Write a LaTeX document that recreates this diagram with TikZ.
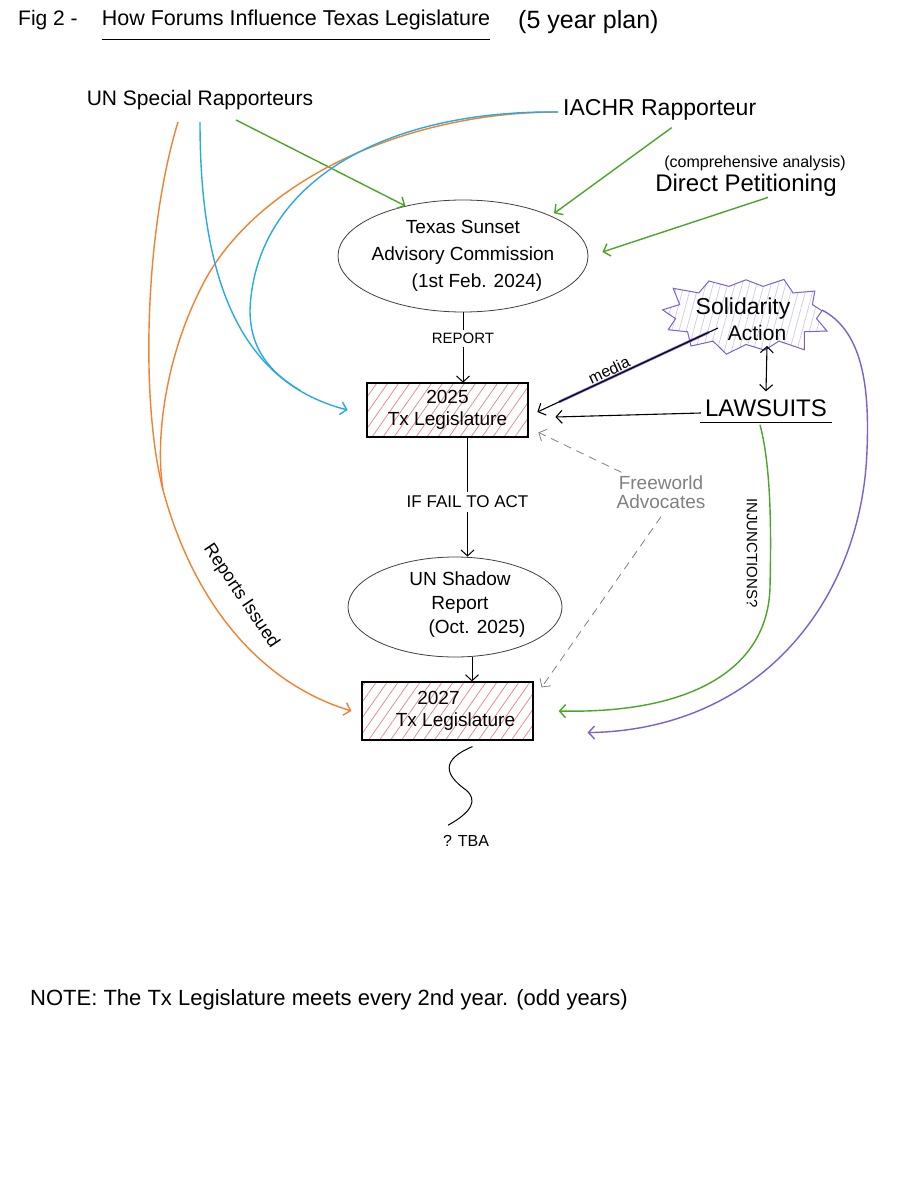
\documentclass[tikz,border=0pt]{standalone}
\usepackage{fontspec}
\setmainfont{Liberation Sans}
\usetikzlibrary{arrows.meta,shapes.geometric,shapes.symbols,patterns.meta,calc}
\definecolor{orng}{RGB}{240,130,50}
\definecolor{blu}{RGB}{40,170,230}
\definecolor{grn}{RGB}{75,165,40}
\definecolor{purp}{RGB}{125,95,205}
\definecolor{hatchred}{RGB}{235,130,130}
\newcommand\fsz[1]{\fontsize{#1}{#1}\selectfont}
\tikzset{
  lbl/.style={inner sep=0pt},
  harrow/.style={-{Straight Barb[length=6pt,width=13pt]}},
  hbox/.style={draw, line width=1.2pt, align=center, inner sep=0pt,
    pattern={Lines[angle=55,distance=9pt,line width=0.7pt]}, pattern color=hatchred},
  oval/.style={ellipse, draw=black!75, line width=0.8pt, inner sep=0pt},
  colline/.style={line width=1.4pt},
  fwline/.style={harrow, gray, line width=0.8pt, dash pattern=on 8pt off 6pt},
}
\begin{document}
\begin{tikzpicture}[x=1pt,y=-1pt]
\useasboundingbox[fill=white] (0,0) rectangle (910,1188);

% title
\node[lbl, anchor=west, font=\fsz{21}] (fig) at (18,20) {Fig 2 -};
\node[lbl, font=\fsz{21.5}] (title) at (296,20) {How Forums Influence Texas Legislature};
\draw[line width=1pt] ([yshift=-9pt]title.south west) -- ([yshift=-9pt]title.south east);
\node[lbl, anchor=west, font=\fsz{25}] (plan) at (518,22) {(5 year plan)};

% sources
\node[lbl, font=\fsz{21}] (un) at (200,100) {UN Special Rapporteurs};
\node[lbl, anchor=west, font=\fsz{23}] (iachr) at (563,110) {IACHR Rapporteur};
\node[lbl, font=\fsz{16}] (compa) at (755,163) {(comprehensive analysis)};
\node[lbl, font=\fsz{24}] (direct) at (746,185) {Direct Petitioning};

% Sunset commission
\node[oval, minimum width=250pt, minimum height=112pt] (sunset) at (463,256) {};
\node[lbl, align=center, font=\fontsize{19}{27}\selectfont] (sunsettxt) at (463,256)
  {Texas Sunset\\Advisory Commission\\\hspace*{28pt}(1st Feb. 2024)};

% legislature boxes
\node[hbox, minimum width=161pt, minimum height=54pt, font=\fontsize{19}{22}\selectfont] (box25) at (447.5,410) {2025\\Tx Legislature};
\node[oval, minimum width=214pt, minimum height=100pt] (shadow) at (455,607) {};
\node[lbl, align=center, font=\fontsize{19}{24}\selectfont] (shadowtxt) at (460,605)
  {UN Shadow\\Report\\\hspace*{34pt}(Oct. 2025)};
\node[hbox, minimum width=171pt, minimum height=58pt, font=\fontsize{19}{22}\selectfont] (box27) at (447.5,711) {2027\hspace*{18pt}\\\hspace*{16pt}Tx Legislature};

% vertical flow
\draw[harrow, line width=1pt] (sunset.south) -- (sunset.south |- box25.north)
  node[pos=0.37, lbl, fill=white, inner sep=3pt, font=\fsz{15}] (report) {REPORT};
\draw[harrow, line width=1pt] ([xshift=20pt]box25.south) -- ([xshift=20pt]box25.south |- shadow.north)
  node[pos=0.54, lbl, fill=white, inner sep=4pt, font=\fsz{17}] (fail) {IF FAIL TO ACT};
\draw[harrow, line width=1pt] ([xshift=17pt]shadow.south) -- ([xshift=17pt]shadow.south |- box27.north);

% TBA
\node[lbl, font=\fsz{16}] (tba) at (466,841) {? TBA};
\draw[line width=1pt] ([xshift=25pt,yshift=-6pt]box27.south) .. controls (440,760) and (445,775) .. (466,790)
  .. controls (478,800) and (472,812) .. ([xshift=-18pt,yshift=10pt]tba.north);

% note
\node[lbl, anchor=west, font=\fsz{22}] (note) at (30,1000) {NOTE: The Tx Legislature meets every 2nd year. (odd years)};

% Solidarity action
\node[starburst, draw=purp, line width=1pt, minimum width=178pt, minimum height=95pt,
  starburst points=13, starburst point height=18pt, random starburst=3,
  pattern={Lines[angle=75,distance=7pt,line width=0.7pt]}, pattern color=purp!35] (solid) at (746,315) {};
\node[lbl, font=\fsz{23}] (soltxt) at (743,309) {Solidarity};
\node[lbl, font=\fsz{21}] (acttxt) at (757,333) {Action};

% Lawsuits
\node[lbl, font=\fsz{24}] (laws) at (766,408) {LAWSUITS};
\draw[line width=1.1pt] ([xshift=-5pt,yshift=-6pt]laws.south west) -- ([xshift=5pt,yshift=-6pt]laws.south east);
\coordinate (solA) at (767,346);
\draw[{Straight Barb[length=6pt,width=13pt]}-{Straight Barb[length=6pt,width=13pt]}, line width=1.1pt]
  (solA) -- ([yshift=8pt]laws.north);
\draw[harrow, line width=1.1pt] ([xshift=-4pt,yshift=-5pt]laws.west) -- ([xshift=27pt,yshift=-7pt]box25.east);

% media
\coordinate (medS) at (718,328);
\coordinate (medT) at ([xshift=9pt,yshift=-2pt]box25.east);
\draw[purp, line width=2.6pt] ($(medS)!0.05!(medT)$) -- ($(medS)!0.88!(medT)$);
\draw[harrow, line width=1.1pt] (medS) -- (medT);
\node[lbl, rotate=25, font=\fsz{16}] (media) at (609,370) {media};

% Freeworld advocates
\node[lbl, align=center, text=gray, font=\fontsize{19}{19}\selectfont] (free) at (661,492) {Freeworld\\Advocates};
\draw[fwline] ([xshift=5pt,yshift=3pt]free.north west) -- ([xshift=10pt,yshift=5pt]box25.south east);
\draw[fwline] ([yshift=-8pt]free.south) -- ([xshift=8pt,yshift=-6pt]box27.north east);

% injunctions
\draw[grn, colline, harrow] ([xshift=-6pt,yshift=-8pt]laws.south) .. controls (772,470) and (771,540) .. (770,587)
  .. controls (768,670) and (690,714) .. ([xshift=25pt]box27.east);
\node[lbl, rotate=-90, font=\fsz{15}] (inj) at (752,553) {INJUNCTIONS?};

% purple solidarity to 2027
\coordinate (purS) at (822,310);
\draw[purp, colline, harrow] (purS) .. controls (860,330) and (870,380) .. (867,450)
  .. controls (862,600) and (760,730) .. ([xshift=54pt,yshift=8pt]box27.south east);

% green arrows into Sunset
\draw[grn, colline, harrow] ([xshift=36pt,yshift=-10pt]un.south) -- (sunset.139);
\draw[grn, colline, harrow] ([xshift=12pt,yshift=-7pt]iachr.south) -- ([xshift=4pt,yshift=2pt]sunset.25);
\draw[grn, colline, harrow] ([xshift=22pt,yshift=-1pt]direct.south) -- ([xshift=14pt,yshift=4pt]sunset.east);

% orange and blue curves
\coordinate (omerge) at (163,490);
\draw[orng, colline] ([xshift=-5pt,yshift=-2pt]iachr.west) .. controls (400,112) and (250,185) .. (200,290)
  .. controls (165,360) and (155,440) .. (omerge);
\draw[orng, colline, harrow] ([xshift=-22pt,yshift=-12pt]un.south) .. controls (145,230) and (140,400) .. (omerge)
  .. controls (190,590) and (250,680) .. ([xshift=-10pt]box27.west);
\node[lbl, rotate=-56, font=\fsz{18}] (repiss) at (241,596) {Reports Issued};
\draw[blu, colline, harrow] ([yshift=-12pt]un.south) .. controls (200,260) and (230,380) .. ([xshift=-19pt]box25.west)
  coordinate[pos=0.85] (bmerge);
\draw[blu, colline] ([xshift=-5pt,yshift=-2pt]iachr.west) .. controls (380,110) and (255,185) .. (250,310)
  .. controls (250,350) and (271,373) .. (bmerge);
\end{tikzpicture}
\end{document}
